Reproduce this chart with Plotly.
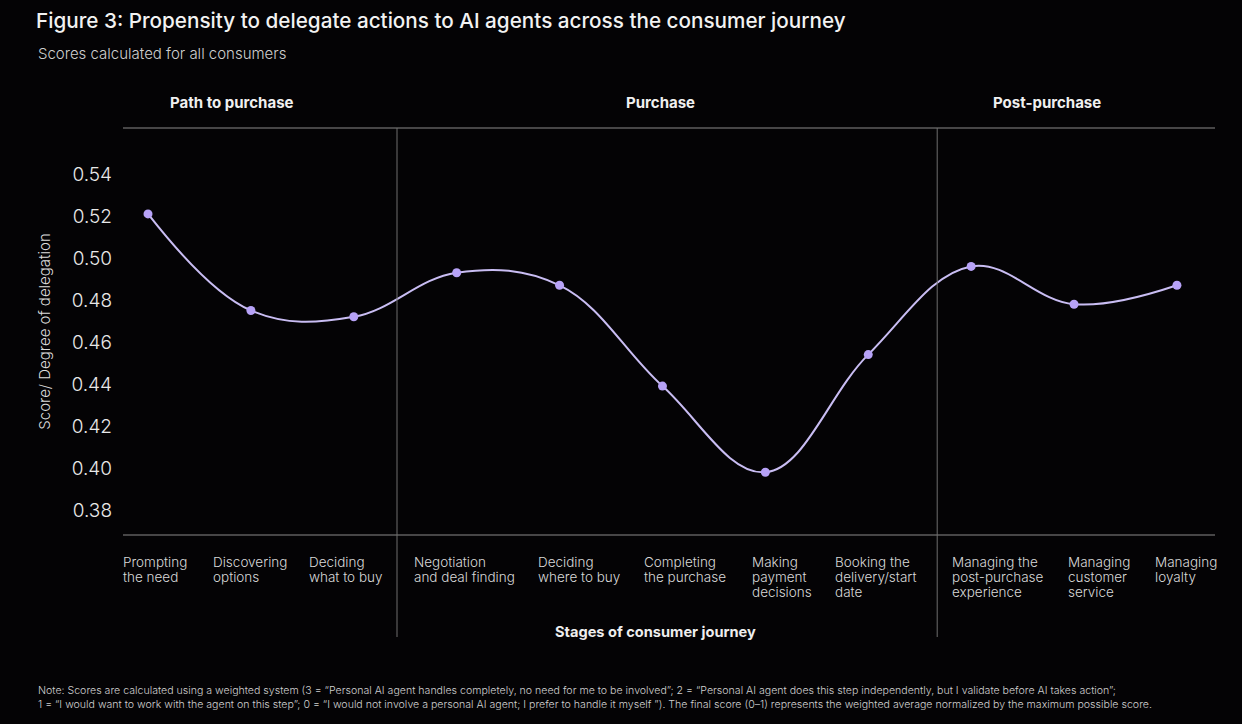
import plotly.graph_objects as go

# consumer journey stages (x categories) and delegation scores
stages = [
    "Prompting<br>the need",
    "Discovering<br>options",
    "Deciding<br>what to buy",
    "Negotiation<br>and deal finding",
    "Deciding<br>where to buy",
    "Completing<br>the purchase",
    "Making<br>payment<br>decisions",
    "Booking the<br>delivery/start<br>date",
    "Managing the<br>post-purchase<br>experience",
    "Managing<br>customer<br>service",
    "Managing<br>loyalty",
]
scores = [0.521, 0.475, 0.472, 0.493, 0.487, 0.439, 0.398, 0.454, 0.496, 0.478, 0.487]

phases = ["Path to purchase", "Purchase", "Post-purchase"]
y_ticks = [0.38, 0.40, 0.42, 0.44, 0.46, 0.48, 0.50, 0.52, 0.54]

W, H = 1242, 724
L, R, T, B = 123, 27, 128, 189
ph = H - T - B

# left edge (px) of each stage label, as laid out in the original
label_left = [121, 211, 307, 412, 536, 642, 750, 833, 950, 1066, 1153]

def py(p):
    # pixel row -> paper y
    return (H - B - p) / ph

def px(p):
    return (p - L) / (W - L - R)

idx = list(range(len(stages)))

fig = go.Figure()
fig.add_trace(go.Scatter(
    x=idx, y=scores, mode="lines+markers",
    line=dict(color="#c9bdf3", width=2, shape="spline", smoothing=1.1),
    marker=dict(color="#b7a2f7", size=9),
    hoverinfo="y",
))

font = "Inter, Roboto, sans-serif"

fig.update_layout(
    width=W, height=H,
    paper_bgcolor="#040305", plot_bgcolor="#040305",
    margin=dict(l=L, r=R, t=T, b=B),
    showlegend=False,
    font=dict(family=font, color="#e8e8e8"),
    title=dict(
        text="Figure 3: Propensity to delegate actions to AI agents across the consumer journey",
        x=36 / W, xanchor="left", xref="container",
        y=1 - 21 / H, yanchor="middle", yref="container",
        font=dict(size=20.7, color="#f2f2f2", family=font, weight=500),
    ),
    xaxis=dict(range=[-0.243, 10.37], showgrid=False, zeroline=False,
               showticklabels=False, showline=False),
    yaxis=dict(range=[0.3681, 0.5619], showgrid=False, zeroline=False,
               tickvals=y_ticks, tickformat=".2f", ticks="", ticklabelstandoff=10,
               tickfont=dict(size=19, color="#e8e8e8", weight=300), showline=False,
               title=dict(text="Score/ Degree of delegation",
                          font=dict(size=15, color="#dcdcdc", weight=300), standoff=17)),
)

# subtitle
fig.add_annotation(text="Scores calculated for all consumers", xref="paper", yref="paper",
                   x=px(36), y=py(53), xanchor="left", yanchor="middle", showarrow=False,
                   font=dict(size=15, color="#cfcfcf", weight=300))

# phase headers
for name, cx in zip(phases, [232, 660, 1047]):
    fig.add_annotation(text="<b>" + name + "</b>", xref="paper", yref="paper",
                       x=px(cx), y=py(102), xanchor="center", yanchor="middle",
                       showarrow=False, font=dict(size=15, color="#f0f0f0"))

# stage labels under the axis, one annotation per line for tight leading
for s, lx in zip(stages, label_left):
    for k, part in enumerate(s.split("<br>")):
        fig.add_annotation(text=part, xref="paper", yref="paper", x=px(lx),
                           y=py(562 + 15 * k), xanchor="left", yanchor="middle",
                           showarrow=False,
                           font=dict(size=13.5, color="#d8d8d8", weight=300))

fig.add_annotation(text="<b>Stages of consumer journey</b>", xref="paper", yref="paper",
                   x=px(655), y=py(632), xanchor="center", yanchor="middle",
                   showarrow=False, font=dict(size=14.6, color="#eeeeee"))

# footnote
fig.add_annotation(
    text=("Note: Scores are calculated using a weighted system (3 = \u201cPersonal AI agent handles completely, no need for me to be involved\u201d; "
          "2 = \u201cPersonal AI agent does this step independently, but I validate before AI takes action\u201d;<br>"
          "1 = \u201cI would want to work with the agent on this step\u201d; 0 = \u201cI would not involve a personal AI agent; I prefer to handle it myself \u201d). "
          "The final score (0\u20131) represents the weighted average normalized by the maximum possible score."),
    xref="paper", yref="paper", x=px(36), y=py(682), xanchor="left", yanchor="top",
    align="left", showarrow=False, font=dict(size=10.6, color="#d0d0d0", weight=300))

# frame lines: top rule, bottom axis, phase dividers
fig.add_shape(type="line", xref="paper", yref="paper", x0=0, x1=1, y0=1, y1=1,
              line=dict(color="#8a8a8a", width=1))
fig.add_shape(type="line", xref="paper", yref="paper", x0=0, x1=1, y0=0, y1=0,
              line=dict(color="#8a8a8a", width=1))
for xd in [2.42, 7.67]:
    fig.add_shape(type="line", xref="x", yref="paper", x0=xd, x1=xd, y0=1, y1=py(637),
                  line=dict(color="#6e6e6e", width=1))

fig.write_html("out.html", config={"displayModeBar": False},
               post_script="document.body.style.margin='0';")
